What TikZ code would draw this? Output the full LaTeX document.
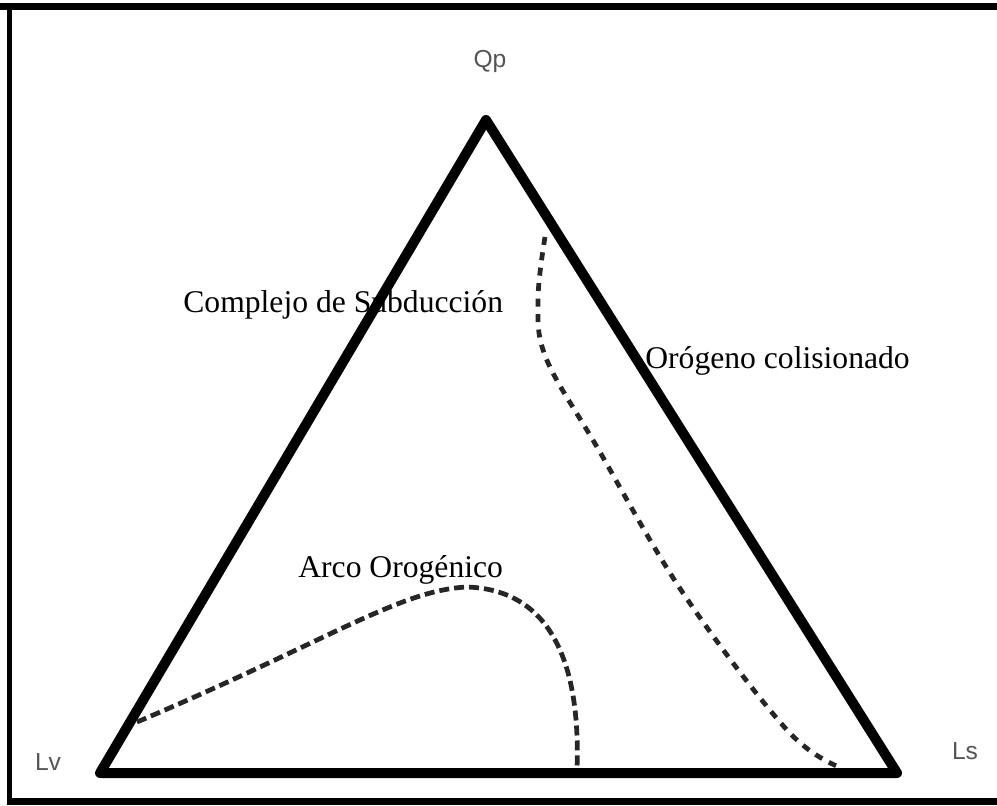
\documentclass[tikz,border=0pt]{standalone}
\usepackage{fontspec}
\setmainfont{Liberation Serif}
\newfontfamily\cornerfont{Liberation Sans}
\usetikzlibrary{calc}

\definecolor{cornergray}{HTML}{555555}

\tikzset{
  side/.style={line width=5.7pt,line join=round,line cap=round},
  fieldline/.style={line width=2.7pt,color=black!85,dash pattern=on 0.2cm off 0.1cm},
  fieldlinetwo/.style={line width=2.7pt,color=black!85,dash pattern=on 0.16cm off 0.15cm},
  corner label/.style={anchor=base,inner sep=0pt,text=cornergray,font=\cornerfont\fontsize{14}{16}\selectfont},
  field label/.style={anchor=base west,inner sep=0pt,font=\fontsize{18}{20}\selectfont}
}

\begin{document}
\begin{tikzpicture}[x=0.02cm,y=-0.02cm]
    \useasboundingbox (0,0) rectangle (997,805);

    % frame
    \fill (0,3) rectangle (997,10);
    \fill (7,3) rectangle (12,805);
    \fill (7,798) rectangle (997,805);

    \coordinate (Qp) at (486,120);
    \coordinate (Lv) at (100,773);
    \coordinate (Ls) at (897,773);

    \draw[side] (Qp) -- (Lv) -- (Ls) -- cycle;

    % field boundaries
    \coordinate (arcA) at (137,722);
    \coordinate (arcB) at (467,587);
    \coordinate (arcC) at (577,768);
    \draw[fieldline] (arcA) .. controls (330,640) and (400,590) .. (arcB)
                            .. controls (560,590) and (580,680) .. (arcC);
    \draw[fieldlinetwo] plot[smooth,tension=0.6] coordinates
      {(545,237) (538,300) (546,358) (597,447) (683,593) (787,730) (842,768)};

    \node (qplabel) [corner label] at (490,67) {Qp};
    \node (lvlabel) [corner label] at (48,770) {Lv};
    \node (lslabel) [corner label] at (965,759) {Ls};

    \node (subduccion) [field label] at (183,312) {Complejo de Subducción};
    \node (colision) [field label] at (645,368) {Orógeno colisionado};
    \node (arco) [field label] at (298,577) {Arco Orogénico};
  \end{tikzpicture}
\end{document}
